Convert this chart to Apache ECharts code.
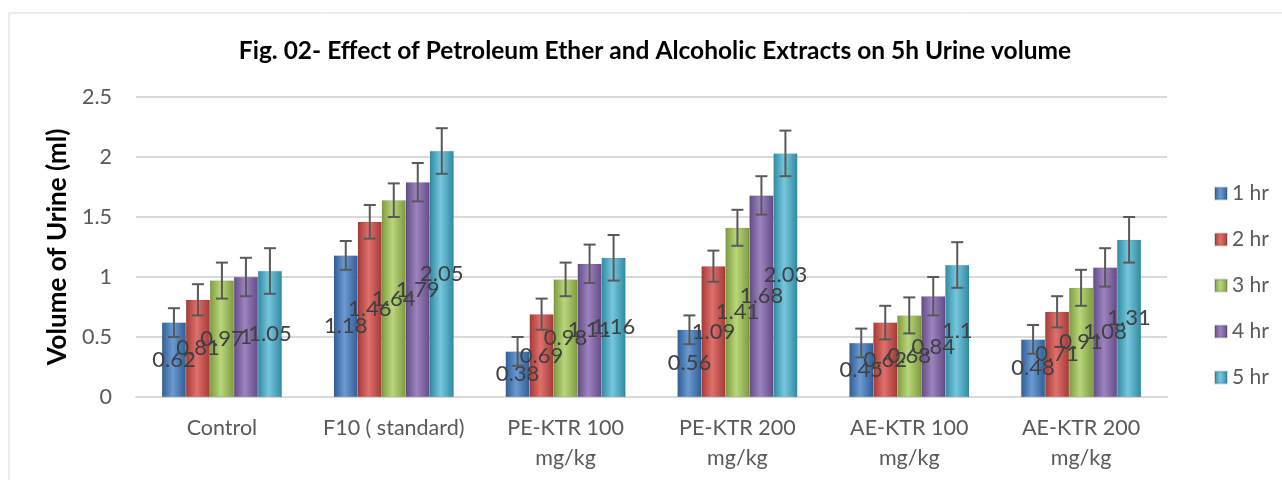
<!DOCTYPE html>
<html>
<head>
<meta charset="utf-8">
<script src="https://cdn.jsdelivr.net/npm/echarts@6/dist/echarts.min.js"></script>
<style>
  html, body { margin: 0; padding: 0; background: #fff; }
  #chart { width: 1282px; height: 480px; }
</style>
</head>
<body>
<div id="chart"></div>
<script>
var categories = ['Control', 'F10 ( standard)', 'PE-KTR 100\nmg/kg', 'PE-KTR 200\nmg/kg', 'AE-KTR 100\nmg/kg', 'AE-KTR 200\nmg/kg'];
var seriesNames = ['1 hr', '2 hr', '3 hr', '4 hr', '5 hr'];

// values per time point
var hr1 = [0.62, 1.18, 0.38, 0.56, 0.45, 0.48];
var hr2 = [0.81, 1.46, 0.69, 1.09, 0.62, 0.71];
var hr3 = [0.97, 1.64, 0.98, 1.41, 0.68, 0.91];
var hr4 = [1, 1.79, 1.11, 1.68, 0.84, 1.08];
var hr5 = [1.05, 2.05, 1.16, 2.03, 1.1, 1.31];

// error bar half widths
var err1 = [0.12, 0.12, 0.12, 0.12, 0.12, 0.12];
var err2 = [0.13, 0.14, 0.13, 0.13, 0.14, 0.13];
var err3 = [0.15, 0.14, 0.14, 0.15, 0.15, 0.15];
var err4 = [0.16, 0.16, 0.16, 0.16, 0.16, 0.16];
var err5 = [0.19, 0.19, 0.19, 0.19, 0.19, 0.19];

var yTicks = [0, 0.5, 1, 1.5, 2, 2.5];

var values = [hr1, hr2, hr3, hr4, hr5];
var errors = [err1, err2, err3, err4, err5];

// dark edge / light middle for the shaded bar look
var shades = [
  ['#2f5d95', '#6b9ad3', '#2f5d95'],
  ['#a33a37', '#e0706c', '#a33a37'],
  ['#7d9a3f', '#b9d77a', '#7d9a3f'],
  ['#634b85', '#9d84c0', '#634b85'],
  ['#2f8aa3', '#76c7dc', '#2f8aa3']
];

var BAR_W = 24;
var FONT = 'Lato, "Open Sans", sans-serif';

function grad(s) {
  return new echarts.graphic.LinearGradient(0, 0, 1, 0, [
    { offset: 0, color: s[0] },
    { offset: 0.45, color: s[1] },
    { offset: 1, color: s[2] }
  ]);
}

var series = [];
seriesNames.forEach(function (name, i) {
  series.push({
    name: name,
    type: 'bar',
    barWidth: BAR_W,
    barGap: '0%',
    data: values[i],
    itemStyle: { color: grad(shades[i]), borderColor: 'rgba(0,0,0,0.15)', borderWidth: 0.5 },
    label: {
      show: true,
      position: 'inside',
      color: '#404040',
      fontFamily: FONT,
      fontSize: 22
    },
    z: 2
  });
});

seriesNames.forEach(function (name, i) {
  var rows = values[i].map(function (v, k) { return [k, v, errors[i][k]]; });
  series.push({
    type: 'custom',
    name: name + ' err',
    data: rows,
    z: 5,
    silent: true,
    renderItem: function (params, api) {
      var k = api.value(0), v = api.value(1), e = api.value(2);
      var top = api.coord([k, v + e]);
      var bot = api.coord([k, v - e]);
      var x = top[0] + (i - 2) * BAR_W;
      var cap = 6;
      var st = { stroke: '#595959', lineWidth: 2 };
      return {
        type: 'group',
        children: [
          { type: 'line', shape: { x1: x, y1: top[1], x2: x, y2: bot[1] }, style: st },
          { type: 'line', shape: { x1: x - cap, y1: top[1], x2: x + cap, y2: top[1] }, style: st },
          { type: 'line', shape: { x1: x - cap, y1: bot[1], x2: x + cap, y2: bot[1] }, style: st }
        ]
      };
    }
  });
});

var chart = echarts.init(document.getElementById('chart'));
chart.setOption({
  animation: false,
  backgroundColor: '#ffffff',
  title: {
    text: 'Fig. 02- Effect of Petroleum Ether and Alcoholic Extracts on 5h Urine volume',
    left: 650,
    textAlign: 'center',
    top: 34,
    textStyle: { fontFamily: FONT, fontSize: 24.5, fontWeight: 'bold', color: '#000' }
  },
  graphic: [{
    type: 'rect',
    shape: { x: 9, y: 13, width: 1400, height: 600 },
    style: { fill: 'none', stroke: '#d9d9d9', lineWidth: 1 },
    silent: true
  }],
  legend: {
    data: seriesNames,
    orient: 'vertical',
    left: 1209,
    top: 178,
    itemWidth: 12,
    itemHeight: 12,
    itemGap: 25,
    icon: 'rect',
    textStyle: { fontFamily: FONT, fontSize: 21, color: '#595959', lineHeight: 20 }
  },
  grid: { left: 136, right: 115, top: 97, bottom: 83 },
  xAxis: {
    type: 'category',
    data: categories,
    axisLine: { lineStyle: { color: '#d9d9d9', width: 2 } },
    axisTick: { show: false },
    axisLabel: { interval: 0, fontFamily: FONT, fontSize: 21.5, color: '#595959', lineHeight: 30, margin: 16 }
  },
  yAxis: {
    type: 'value',
    min: yTicks[0],
    max: yTicks[yTicks.length - 1],
    interval: 0.5,
    name: 'Volume of Urine (ml)',
    nameLocation: 'middle',
    nameGap: 56,
    nameTextStyle: { fontFamily: FONT, fontSize: 26, fontWeight: 'bold', color: '#000' },
    axisLine: { show: false },
    axisTick: { show: false },
    splitLine: { lineStyle: { color: '#d9d9d9', width: 2 } },
    axisLabel: { fontFamily: FONT, fontSize: 21.5, color: '#595959', margin: 24 }
  },
  series: series
});
</script>
</body>
</html>
